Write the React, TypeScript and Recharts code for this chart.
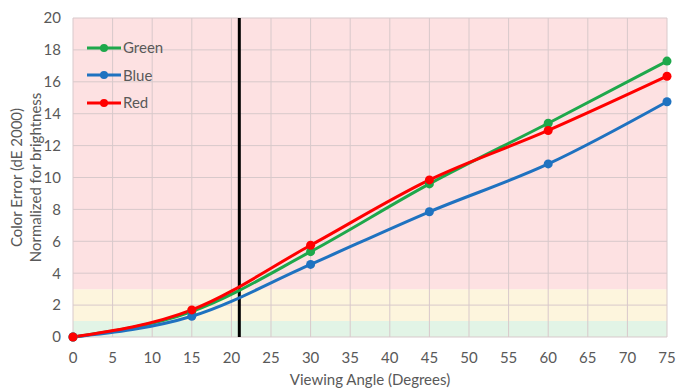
import React from 'react';
import { LineChart, Line, XAxis, YAxis, ReferenceArea, ReferenceLine } from 'recharts';

const angles = [0, 15, 30, 45, 60, 75];
const greenValues = [0, 1.6, 5.35, 9.6, 13.4, 17.3];
const blueValues = [0, 1.3, 4.55, 7.85, 10.85, 14.75];
const redValues = [0, 1.7, 5.75, 9.85, 12.95, 16.35];
const xTicks = [0, 5, 10, 15, 20, 25, 30, 35, 40, 45, 50, 55, 60, 65, 70, 75];
const yTicks = [0, 2, 4, 6, 8, 10, 12, 14, 16, 18, 20];
const markerAngle = 21;
const bands = [
  { from: 0, to: 1, color: '#e2f4e6' },
  { from: 1, to: 3, color: '#fdf5dd' },
  { from: 3, to: 20, color: '#fde1e2' },
];
const series = [
  { key: 'green', name: 'Green', color: '#1ea84b' },
  { key: 'blue', name: 'Blue', color: '#1f72c0' },
  { key: 'red', name: 'Red', color: '#ff0000' },
];

const data = angles.map((a, i) => ({ angle: a, green: greenValues[i], blue: blueValues[i], red: redValues[i] }));

const FONT = 'Lato, "Noto Sans", sans-serif';
const TEXT = '#595959';
const FS = 15;
const GRID = '#d8c9cb';

const NoTick = () => <g />;

const YLabel = (props: any) => {
  const vb = props.viewBox || { x: 0, y: 18, width: 73, height: 319 };
  const cy = vb.y + vb.height / 2;
  return (
    <g>
      <text x={16} y={cy} transform={`rotate(-90 16 ${cy})`} textAnchor="middle" dominantBaseline="central" fill={TEXT} fontSize={FS} fontFamily={FONT}>Color Error (dE 2000)</text>
      <text x={35} y={cy} transform={`rotate(-90 35 ${cy})`} textAnchor="middle" dominantBaseline="central" fill={TEXT} fontSize={FS} fontFamily={FONT}>Normalized for brightness</text>
    </g>
  );
};

const XLabel = (props: any) => {
  const vb = props.viewBox || { x: 73, y: 337, width: 594, height: 53 };
  const cx = vb.x + vb.width / 2;
  return (
    <text x={cx} y={379} textAnchor="middle" dominantBaseline="central" fill={TEXT} fontSize={FS} fontFamily={FONT}>Viewing Angle (Degrees)</text>
  );
};

const LegendBox = () => (
  <div style={{ position: 'absolute', left: 87, top: 34, fontFamily: FONT, fontSize: FS, color: TEXT, lineHeight: 1 }}>
    {series.map((s) => (
      <div key={s.key} style={{ display: 'flex', alignItems: 'center', height: 27.5 }}>
        <svg width={34} height={12} style={{ marginRight: 2 }}>
          <line x1={0} y1={6} x2={34} y2={6} stroke={s.color} strokeWidth={3} />
          <circle cx={17} cy={6} r={4} fill={s.color} />
        </svg>
        <span>{s.name}</span>
      </div>
    ))}
  </div>
);

export default function App() {
  return (
    <div style={{ position: 'absolute', left: 0, top: 0, width: 693, height: 390, background: '#fff' }}>
      <LineChart width={693} height={390} data={data} margin={{ top: 18, right: 26, left: 0, bottom: 0 }}>
        {bands.map((b) => (
          <ReferenceArea key={b.from} y1={b.from} y2={b.to} x1={0} x2={75} fill={b.color} fillOpacity={1} stroke="none" ifOverflow="hidden" />
        ))}
        {xTicks.map((t) => (
          <ReferenceLine key={'gx' + t} x={t} stroke={GRID} strokeWidth={1} />
        ))}
        {yTicks.map((t) => (
          <ReferenceLine key={'gy' + t} y={t} stroke={GRID} strokeWidth={1} />
        ))}
        <XAxis
          dataKey="angle"
          type="number"
          domain={[0, 75]}
          ticks={xTicks}
          interval={0}
          height={53}
          axisLine={false}
          tickLine={false}
          tickMargin={9}
          tick={{ fill: TEXT, fontSize: FS, fontFamily: FONT }}
          label={<XLabel />}
        />
        <XAxis
          xAxisId="top"
          orientation="top"
          dataKey="angle"
          type="number"
          domain={[0, 75]}
          ticks={xTicks}
          interval={0}
          height={0}
          axisLine={false}
          tickSize={4}
          tickLine={{ stroke: GRID }}
          tick={<NoTick />}
        />
        <YAxis
          type="number"
          domain={[0, 20]}
          ticks={yTicks}
          interval={0}
          width={73}
          axisLine={false}
          tickLine={false}
          tickMargin={6}
          tick={{ fill: TEXT, fontSize: FS, fontFamily: FONT }}
          label={<YLabel />}
        />
        <YAxis
          yAxisId="right"
          orientation="right"
          type="number"
          domain={[0, 20]}
          ticks={yTicks}
          interval={0}
          width={0}
          axisLine={false}
          tickSize={5}
          tickLine={{ stroke: GRID }}
          tick={<NoTick />}
        />
        <ReferenceLine x={markerAngle} stroke="#000" strokeWidth={3} />
        {series.map((s) => (
          <Line
            key={s.key}
            type="monotone"
            dataKey={s.key}
            name={s.name}
            stroke={s.color}
            strokeWidth={3}
            dot={{ r: 4.5, fill: s.color, stroke: s.color, strokeWidth: 0 }}
            activeDot={false}
            isAnimationActive={false}
          />
        ))}
      </LineChart>
      <LegendBox />
    </div>
  );
}
